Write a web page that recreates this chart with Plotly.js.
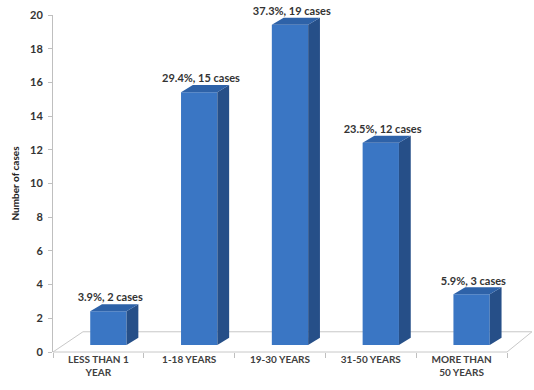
<!DOCTYPE html>
<html>
<head>
<meta charset="utf-8">
<script src="https://cdn.plot.ly/plotly-3.0.1.min.js"></script>
<style>html,body{margin:0;padding:0;background:#fff;}#chart{width:534px;height:390px;}</style>
</head>
<body>
<div id="chart"></div>
<script>
// Data
const categories = ["LESS THAN 1<br>YEAR", "1-18 YEARS", "19-30 YEARS", "31-50 YEARS", "MORE THAN<br>50 YEARS"];
const cases = [2, 15, 19, 12, 3];
const percents = [3.9, 29.4, 37.3, 23.5, 5.9];

// 3D styling (in axis units)
const positions = categories.map((c, i) => i);
const BASE = 0.42;      // bars sit slightly behind the front edge of the floor
const OFF = -0.09;      // front face left edge relative to category centre
const W = 0.4;          // front face width
const DX = 0.13;        // depth offset, x (category units)
const DY = 0.42;        // depth offset, y (value units)

const FRONT = '#3a76c4', SIDE = '#264f88', TOP = '#2e62a8';
const FONT = 'Lato, "Liberation Sans", sans-serif';

const shapes = [];
// floor (decorative plane)
shapes.push({
  type: 'path', xref: 'x domain', yref: 'y domain', layer: 'below',
  path: 'M 0 0 L 1 0 L 1.055 0.06 L 0.066 0.06 Z',
  line: {color: '#c8c8c8', width: 1}, fillcolor: '#ffffff'
});
positions.forEach((p, i) => {
  const x0 = p + OFF, x1 = x0 + W;
  const top = BASE + cases[i];
  // side face
  shapes.push({
    type: 'path', xref: 'x', yref: 'y', layer: 'above',
    path: `M ${x1} ${BASE} L ${x1 + DX} ${BASE + DY} L ${x1 + DX} ${top + DY} L ${x1} ${top} Z`,
    fillcolor: SIDE, line: {width: 0}
  });
  // top face
  shapes.push({
    type: 'path', xref: 'x', yref: 'y', layer: 'above',
    path: `M ${x0} ${top} L ${x1} ${top} L ${x1 + DX} ${top + DY} L ${x0 + DX} ${top + DY} Z`,
    fillcolor: TOP, line: {width: 0}
  });
});

const bars = {
  type: 'bar',
  x: positions,
  y: cases,
  base: BASE,
  width: W,
  offset: OFF,
  marker: {color: FRONT, line: {width: 0}},
  hoverinfo: 'skip'
};

const labels = {
  type: 'scatter',
  mode: 'text',
  x: positions.map(p => p + OFF + W / 2 + 0.02),
  y: cases.map(v => v + BASE + DY),
  text: cases.map((v, i) => percents[i].toFixed(1) + '%, ' + v + ' cases'),
  textposition: 'top center',
  textfont: {family: FONT, size: 11, color: '#333333', weight: 'bold'},
  cliponaxis: false,
  hoverinfo: 'skip'
};

const layout = {
  width: 534, height: 390,
  margin: {l: 53, r: 27, t: 15, b: 38},
  paper_bgcolor: '#ffffff', plot_bgcolor: 'rgba(0,0,0,0)',
  showlegend: false,
  font: {family: FONT, color: '#404040'},
  xaxis: {
    range: [-0.5, 4.5],
    tickvals: positions,
    ticktext: categories,
    ticks: '',
    showgrid: false, zeroline: false,
    showline: false,
    tickfont: {family: FONT, size: 10, color: '#404040', weight: 'bold'},
    minor: {tickvals: [-0.5, 0.5, 1.5, 2.5, 3.5, 4.5], ticks: 'outside', ticklen: 5, tickcolor: '#bfbfbf', tickwidth: 1, showgrid: false},
    fixedrange: true
  },
  yaxis: {
    range: [0, 20],
    dtick: 2,
    ticks: 'outside', ticklen: 4, tickcolor: '#bfbfbf',
    ticklabelstandoff: 3,
    showline: true, linecolor: '#bfbfbf', linewidth: 1,
    showgrid: false, zeroline: false,
    tickfont: {family: FONT, size: 11, color: '#333333', weight: 'bold'},
    title: {text: 'Number of cases', font: {family: FONT, size: 10, color: '#222222', weight: 'bold'}, standoff: 8},
    fixedrange: true
  },
  shapes: shapes
};

Plotly.newPlot('chart', [bars, labels], layout, {displayModeBar: false, staticPlot: true});
</script>
</body>
</html>
